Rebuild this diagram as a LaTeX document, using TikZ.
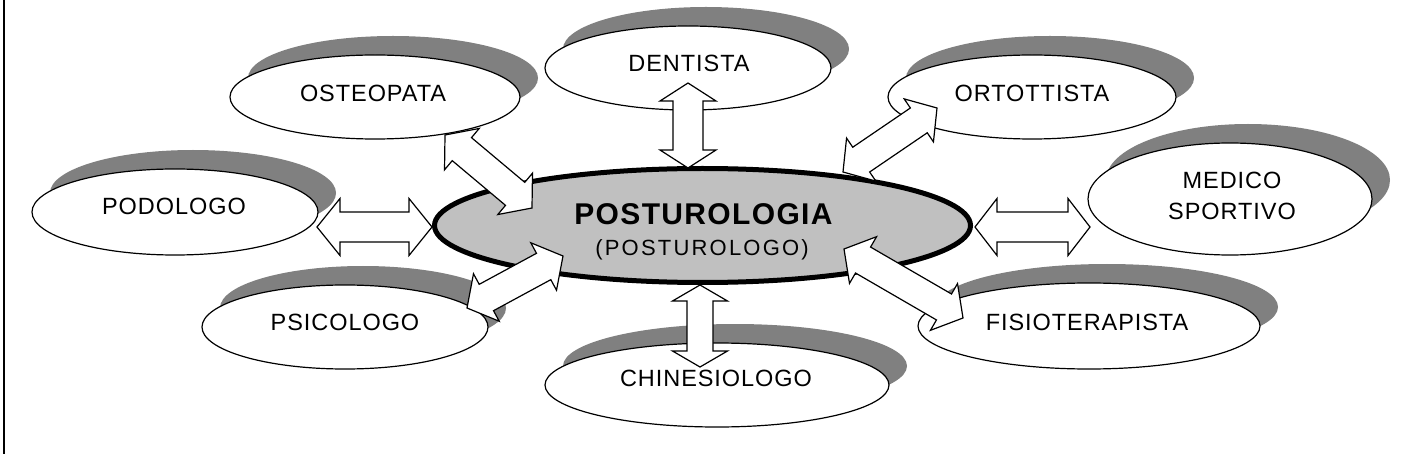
\documentclass[tikz,border=0pt]{standalone}
\usepackage{fontspec}
\setmainfont{Liberation Sans}
\newfontfamily\lblfont[LetterSpace=4]{Liberation Sans}
\newfontfamily\postfont[LetterSpace=4.5]{Liberation Sans}
\newfontfamily\subfont[LetterSpace=10]{Liberation Sans}
\usetikzlibrary{shapes.geometric,calc}
\definecolor{shadowgrey}{RGB}{128,128,128}
\definecolor{centergrey}{RGB}{192,192,192}
\tikzset{
  outerell/.style={ellipse, draw=black, fill=white, line width=1.2pt, inner sep=0pt, outer sep=0pt},
  shadowfill/.style={fill=shadowgrey},
  lbl/.style={anchor=base, inner sep=0pt, text=black, font=\lblfont\fontsize{23.5pt}{26pt}\selectfont},
  barrow/.style={draw=black, fill=white, line width=1.2pt, line join=miter},
  centreell/.style={ellipse, draw=black, fill=centergrey, line width=5pt, inner sep=0pt}
}
% bubble: name, x, y, rx, ry  (pixel coords, y downwards)
\newcommand\bubble[5]{%
  \fill[shadowfill] ({#2+18},{-#3+19}) ellipse [x radius=#4pt, y radius=#5pt];
  \node[outerell, minimum width=2*#4pt, minimum height=2*#5pt] (#1) at (#2,-#3) {};
}
% double block arrow: from, to, head length, head half width, shaft half width
\newcommand\dblarrow[5]{%
  \draw[barrow] let \p1=(#1), \p2=(#2), \n1={atan2(\y2-\y1,\x2-\x1)}, \n2={veclen(\x2-\x1,\y2-\y1)} in
    (\p1) -- ++({#3*cos(\n1)-#4*sin(\n1)},{#3*sin(\n1)+#4*cos(\n1)})
    -- ++({(#4-#5)*sin(\n1)},{-(#4-#5)*cos(\n1)})
    -- ++({(\n2-2*#3)*cos(\n1)},{(\n2-2*#3)*sin(\n1)})
    -- ++({-(#4-#5)*sin(\n1)},{(#4-#5)*cos(\n1)})
    -- (\p2)
    -- ++({-#3*cos(\n1)+#4*sin(\n1)},{-#3*sin(\n1)-#4*cos(\n1)})
    -- ++({-(#4-#5)*sin(\n1)},{(#4-#5)*cos(\n1)})
    -- ++({-(\n2-2*#3)*cos(\n1)},{-(\n2-2*#3)*sin(\n1)})
    -- ++({(#4-#5)*sin(\n1)},{-(#4-#5)*cos(\n1)})
    -- cycle;
}
\begin{document}
\begin{tikzpicture}[x=1pt,y=1pt]
\useasboundingbox (0,0) rectangle (1402,-454);
\fill[white] (0,0) rectangle (1402,-454);
\draw[line width=2pt] (3.7,0) -- (3.7,-454);

% central ellipse
\node[centreell, minimum width=536pt, minimum height=114pt] (post) at (702.5,-225.5) {};

% arrow osteopata <-> centre (lies under the osteopata bubble)
\coordinate (a1s) at (445,-135);
\coordinate (a1e) at (532,-208);
\dblarrow{a1s}{a1e}{22}{27}{15}

% outer bubbles
\bubble{oste}{375}{97}{145}{42}
\bubble{dent}{688}{68}{143}{42}
\bubble{orto}{1032}{97}{144}{42}
\bubble{medi}{1230}{199}{142}{56}
\bubble{podo}{175}{212}{143}{43}
\bubble{psic}{345}{327}{143}{42}
\bubble{chin}{717}{385}{172}{42}
\bubble{fisi}{1089}{326}{171}{43}

% labels
\node[lbl] (osteT) at (373,-101.7) {OSTEOPATA};
\node[lbl] (dentT) at (689,-72) {DENTISTA};
\node[lbl] (ortoT) at (1032,-101.7) {ORTOTTISTA};
\node[lbl] (podoT) at (174,-215) {PODOLOGO};
\node[lbl] (mediT1) at (1232,-188.3) {MEDICO};
\node[lbl] (mediT2) at (1232,-220) {SPORTIVO};
\node[lbl] (psicT) at (345,-330) {PSICOLOGO};
\node[lbl] (chinT) at (716,-386.7) {CHINESIOLOGO};
\node[lbl] (fisiT) at (1087,-330) {FISIOTERAPISTA};
\node[anchor=base, inner sep=0pt, font=\postfont\bfseries\fontsize{30pt}{32pt}\selectfont] (postT) at (703.5,-225) {POSTUROLOGIA};
\node[anchor=base, inner sep=0pt, font=\subfont\fontsize{22pt}{24pt}\selectfont] (postS) at (702,-256) {(POSTUROLOGO)};

% other arrows
\coordinate (a2s) at (688,-83);   \coordinate (a2e) at (688,-168);
\coordinate (a3s) at (843,-172);  \coordinate (a3e) at (937,-108);
\coordinate (a4s) at (317,-227);  \coordinate (a4e) at (432,-227);
\coordinate (a5s) at (975,-227);  \coordinate (a5e) at (1090,-227);
\coordinate (a6s) at (467,-308);  \coordinate (a6e) at (563,-256);
\coordinate (a7s) at (700,-285);  \coordinate (a7e) at (700,-367);
\coordinate (a8s) at (844,-249);  \coordinate (a8e) at (963,-318);
\dblarrow{a2s}{a2e}{18}{28}{15}
\dblarrow{a3s}{a3e}{22}{26}{15}
\dblarrow{a4s}{a4e}{23}{28.5}{15}
\dblarrow{a5s}{a5e}{22}{28.5}{15}
\dblarrow{a6s}{a6e}{22}{27}{15}
\dblarrow{a7s}{a7e}{16}{27.5}{13}
\dblarrow{a8s}{a8e}{22}{27}{15}
\end{tikzpicture}
\end{document}
